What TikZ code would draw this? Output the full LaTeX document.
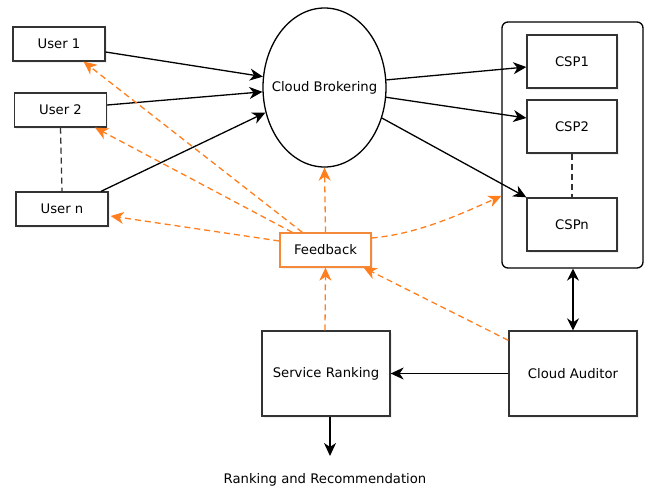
\documentclass[tikz,border=0pt]{standalone}
\usepackage{fontspec}
\setmainfont{DejaVu Sans}
\usetikzlibrary{arrows.meta,shapes.geometric,shadows,calc}
\definecolor{fb}{HTML}{FF7F1E}
\definecolor{fbbord}{HTML}{F4893A}
\begin{document}
\begin{tikzpicture}[x=1pt,y=-1pt,
  font=\fontsize{13.2}{16}\selectfont,
  shad/.style={drop shadow={opacity=0.12,shadow xshift=1.5pt,shadow yshift=-1.5pt}},
  box/.style={draw=black!80,line width=1.3pt,fill=white,shad,inner sep=0pt},
  userbox/.style={box,minimum width=92pt,minimum height=34pt},
  cspbox/.style={box,minimum width=90pt,minimum height=53pt},
  bigbox/.style={box,minimum width=128pt,minimum height=85pt},
  tip/.style={-{Stealth[length=13pt,width=12pt,inset=4pt]}},
  conn/.style={draw=black,line width=1.3pt,tip},
  fbconn/.style={draw=fb,line width=1.3pt,dash pattern=on 6pt off 4pt,tip},
  bdash/.style={draw=black!80,line width=1.3pt,dash pattern=on 6pt off 4pt}]
\useasboundingbox (0,0) rectangle (649,491);
% container
\node[draw=black,line width=1.3pt,rounded corners=6pt,minimum width=141pt,minimum height=246pt,fill=white,inner sep=0pt] (cont) at (572.5,145) {};
% nodes
\node[userbox] (u1) at (59,44) {User 1};
\node[userbox] (u2) at (60.5,110) {User 2};
\node[userbox] (un) at (62,209) {User n};
\node[draw=black,line width=1.3pt,ellipse,minimum width=123pt,minimum height=159pt,inner sep=0pt,fill=white] (cb) at (324.5,87.5) {\makebox[0pt]{Cloud Brokering}};
\node[cspbox] (c1) at (572,61.5) {CSP1};
\node[cspbox] (c2) at (572,126.5) {CSP2};
\node[cspbox] (cn) at (572,224.5) {CSPn};
\node[draw=fbbord,line width=1.3pt,fill=white,minimum width=91pt,minimum height=34pt,inner sep=0pt,shad] (fbk) at (325.5,250) {Feedback};
\node[bigbox] (sr) at (326,373.5) {Service Ranking};
\node[bigbox] (ca) at (573,373.5) {Cloud Auditor};
\node[inner sep=0pt] (rr) at (325,480) {Ranking and Recommendation};
\coordinate (srout) at (330,456);
\coordinate (fbA) at ($(fbk.east)+(0,-12)$);
\coordinate (fbB) at ($(cont.west)+(0,51)$);
% black connectors
\draw[conn] ($(u1.east)+(0,8)$) -- (cb.170);
\draw[conn] ($(u2.east)+(0,-5)$) -- (cb.184);
\draw[conn] ($(un.north)+(39,0)$) -- (cb.203);
\draw[conn] (cb.7) -- ($(c1.west)+(0,5.5)$);
\draw[conn] (cb.351) -- ($(c2.west)+(0,-8.5)$);
\draw[conn] (cb.332) -- (cn.north west);
\draw[bdash] (u2.south) -- (un.north);
\draw[bdash] (c2.south) -- (cn.north);
\draw[draw=black,line width=2.8pt,{Stealth[length=12pt,width=12pt,inset=4pt]}-{Stealth[length=12pt,width=12pt,inset=4pt]}] ($(cont.south)+(0.5,0)$) -- (ca.north);
\draw[conn] (ca.west) -- (sr.east);
\draw[conn] ($(sr.south)+(4,0)$) -- (srout);
% feedback connectors
\draw[fbconn] ($(fbk.north west)+(23,0)$) -- ($(u1.south east)+(-22,0)$);
\draw[fbconn] ($(fbk.north west)+(13,0)$) -- ($(u2.south east)+(-12,0)$);
\draw[fbconn] ($(fbk.west)+(0,-9)$) -- ($(un.east)+(2,7)$);
\draw[fbconn] (fbk.north) -- (cb.270);
\draw[fbconn] (fbA) .. controls ($(fbA)+(45,-4)$) and ($(fbB)+(-45,20)$) .. (fbB);
\draw[fbconn] ($(sr.north)+(-1,0)$) -- (fbk.south);
\draw[fbconn] ($(ca.north west)+(0,10)$) -- ($(fbk.south east)+(-8,0)$);
\end{tikzpicture}
\end{document}
